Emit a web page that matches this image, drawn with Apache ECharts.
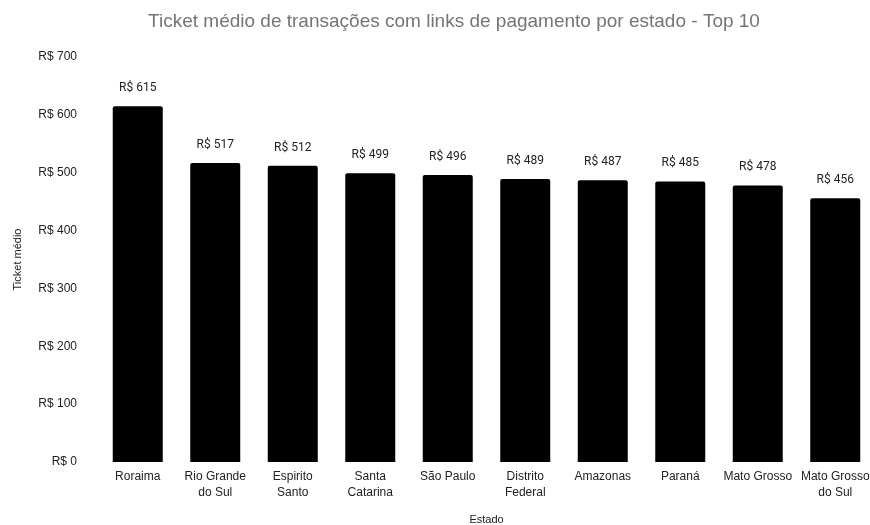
<!DOCTYPE html>
<html>
<head>
<meta charset="utf-8">
<script src="https://cdn.jsdelivr.net/npm/echarts@6/dist/echarts.min.js"></script>
<style>html,body{margin:0;padding:0;background:#fff}#c{width:870px;height:525px}</style>
</head>
<body>
<div id="c"></div>
<script>
const categories = ['Roraima', 'Rio Grande\ndo Sul', 'Espirito\nSanto', 'Santa\nCatarina', 'São Paulo', 'Distrito\nFederal', 'Amazonas', 'Paraná', 'Mato Grosso', 'Mato Grosso\ndo Sul'];
const values = [615, 517, 512, 499, 496, 489, 487, 485, 478, 456];
const yTicks = [0, 100, 200, 300, 400, 500, 600, 700];

const chart = echarts.init(document.getElementById('c'), null, {renderer: 'canvas'});
chart.setOption({
  animation: false,
  backgroundColor: '#ffffff',
  title: {
    text: 'Ticket médio de transações com links de pagamento por estado - Top 10',
    left: 449, top: 7, textAlign: 'center',
    textStyle: {fontFamily: 'Liberation Sans', fontSize: 19, fontWeight: 'normal', color: '#757575'}
  },
  grid: {left: 99, width: 775, top: 57, bottom: 63, containLabel: false, outerBoundsMode: 'none'},
  xAxis: {
    type: 'category', data: categories,
    name: 'Estado', nameLocation: 'middle', nameGap: 52,
    nameTextStyle: {fontFamily: 'Liberation Sans', fontSize: 11, color: '#222'},
    axisLine: {show: false}, axisTick: {show: false},
    axisLabel: {fontFamily: 'Liberation Sans', fontSize: 12, color: '#222', margin: 7, lineHeight: 16, interval: 0}
  },
  yAxis: {
    type: 'value', min: yTicks[0], max: yTicks[yTicks.length - 1], interval: 100,
    name: 'Ticket médio', nameLocation: 'middle', nameGap: 76,
    nameTextStyle: {fontFamily: 'Liberation Sans', fontSize: 11, color: '#222'},
    splitLine: {show: false}, axisLine: {show: false}, axisTick: {show: false},
    axisLabel: {fontFamily: 'Liberation Sans', fontSize: 12, color: '#222', margin: 22,
      formatter: v => 'R$ ' + v}
  },
  series: [{
    type: 'bar', data: values, barWidth: 50,
    itemStyle: {color: '#000000', borderRadius: [2, 2, 0, 0]},
    label: {show: true, position: 'top', distance: 12, fontFamily: 'Roboto', fontSize: 12, color: '#222',
      formatter: p => 'R$ ' + p.value}
  }]
});
</script>
</body>
</html>
